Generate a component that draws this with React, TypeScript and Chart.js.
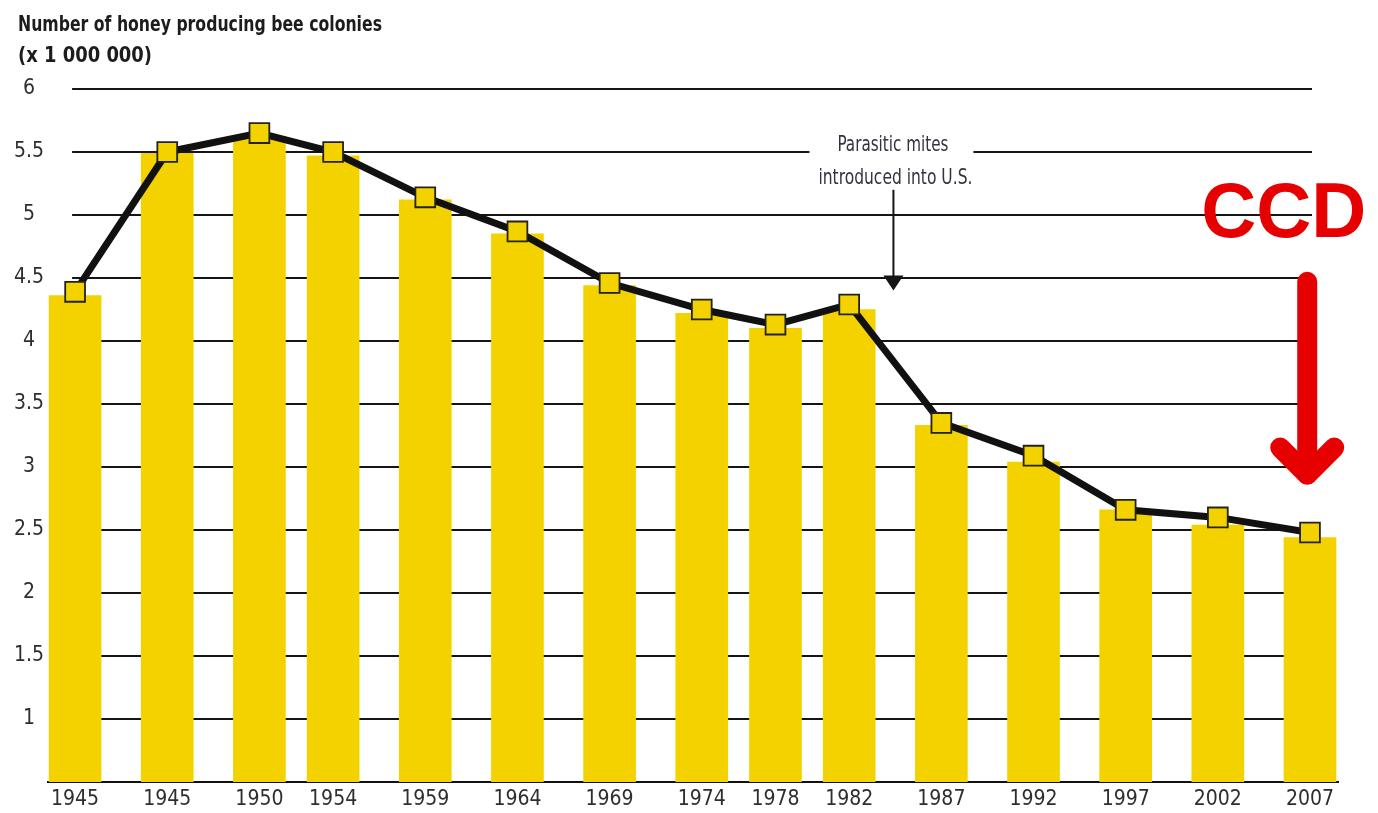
import React, { useEffect, useRef } from 'react';
import { Chart, registerables } from 'chart.js';

Chart.register(...registerables);

// ---- data ----
const xLabels = ['1945', '1945', '1950', '1954', '1959', '1964', '1969', '1974', '1978', '1982', '1987', '1992', '1997', '2002', '2007'];
const xYears = [1940, 1945, 1950, 1954, 1959, 1964, 1969, 1974, 1978, 1982, 1987, 1992, 1997, 2002, 2007];
const barValues = [4.36, 5.49, 5.62, 5.47, 5.12, 4.85, 4.44, 4.22, 4.1, 4.25, 3.33, 3.04, 2.66, 2.54, 2.44];
const lineValues = [4.39, 5.5, 5.65, 5.5, 5.14, 4.87, 4.46, 4.25, 4.13, 4.29, 3.35, 3.09, 2.66, 2.6, 2.48];
const gridValues = [1, 1.5, 2, 2.5, 3, 3.5, 4, 4.5, 5, 5.5, 6];
const titleLines = ['Number of honey producing bee colonies', '(x 1 000 000)'];
const mitesLines = ['Parasitic mites', 'introduced into U.S.'];
const mitesYear = 1984.4;
const ccdText = 'CCD';
const ccdYear = 2006.85;

const NARROW = "'Liberation Sans Narrow', 'DejaVu Sans Condensed', 'Arial Narrow', sans-serif";
const YELLOW = '#F3D200';
const RED = '#E60000';

function fitText(ctx: CanvasRenderingContext2D, text: string, x: number, y: number, width: number) {
  const w = ctx.measureText(text).width;
  ctx.save();
  ctx.translate(x, y);
  ctx.scale(width / w, 1);
  ctx.fillText(text, 0, 0);
  ctx.restore();
}

const decorPlugin = {
  id: 'decor',
  beforeDatasetsDraw(chart: any) {
    const { ctx, scales } = chart;
    const xs = scales.x;
    const ys = scales.y;
    const x0 = xs.getPixelForValue(xYears[0]) - 3;
    const x1 = xs.getPixelForValue(xYears[xYears.length - 1]) + 2;
    ctx.save();
    ctx.strokeStyle = '#151515';
    ctx.lineWidth = 2;
    gridValues.forEach((v) => {
      const py = Math.round(ys.getPixelForValue(v));
      ctx.beginPath();
      ctx.moveTo(x0, py);
      ctx.lineTo(x1, py);
      ctx.stroke();
    });
    // white box behind mites text
    const mx = xs.getPixelForValue(mitesYear);
    ctx.fillStyle = '#ffffff';
    ctx.fillRect(mx - 84, ys.getPixelForValue(5.72), 164, 62);
    ctx.restore();
  },
  afterDraw(chart: any) {
    const { ctx, scales } = chart;
    const xs = scales.x;
    const ys = scales.y;
    ctx.save();
    // title
    ctx.fillStyle = '#1c1c1c';
    ctx.textBaseline = 'alphabetic';
    ctx.textAlign = 'left';
    ctx.font = `bold 21px ${NARROW}`;
    fitText(ctx, titleLines[0], 18, 31, 364);
    fitText(ctx, titleLines[1], 18, 62, 134);

    // mites annotation
    const mx = xs.getPixelForValue(mitesYear);
    ctx.fillStyle = '#33333f';
    ctx.font = `22px ${NARROW}`;
    fitText(ctx, mitesLines[0], mx - 56, 151, 111);
    fitText(ctx, mitesLines[1], mx - 75, 184, 154);
    const ay0 = ys.getPixelForValue(5.2);
    const aTip = ys.getPixelForValue(4.4);
    ctx.strokeStyle = '#151515';
    ctx.lineWidth = 2;
    ctx.beginPath();
    ctx.moveTo(mx, ay0);
    ctx.lineTo(mx, aTip - 12);
    ctx.stroke();
    ctx.fillStyle = '#151515';
    ctx.beginPath();
    ctx.moveTo(mx - 10, aTip - 15);
    ctx.lineTo(mx + 10, aTip - 15);
    ctx.lineTo(mx, aTip);
    ctx.closePath();
    ctx.fill();

    // CCD
    const cx = xs.getPixelForValue(ccdYear);
    ctx.fillStyle = RED;
    ctx.font = `bold 78px 'Liberation Sans', Arial, sans-serif`;
    ctx.textAlign = 'left';
    fitText(ctx, ccdText, cx - 106, 237, 165);

    // red arrow
    const top = ys.getPixelForValue(4.47);
    const tip = ys.getPixelForValue(2.94);
    ctx.strokeStyle = RED;
    ctx.lineWidth = 20;
    ctx.lineCap = 'round';
    ctx.lineJoin = 'round';
    ctx.beginPath();
    ctx.moveTo(cx, top);
    ctx.lineTo(cx, tip);
    ctx.stroke();
    ctx.beginPath();
    ctx.moveTo(cx - 27, tip - 27);
    ctx.lineTo(cx, tip);
    ctx.lineTo(cx + 27, tip - 27);
    ctx.stroke();
    ctx.restore();
  },
};

export default function App() {
  const ref = useRef<HTMLCanvasElement | null>(null);

  useEffect(() => {
    if (!ref.current) return;
    const chart = new Chart(ref.current, {
      type: 'bar',
      data: {
        datasets: [
          {
            type: 'line',
            data: xYears.map((x, i) => ({ x, y: lineValues[i] })),
            borderColor: '#111111',
            borderWidth: 7,
            pointStyle: 'rect',
            pointRadius: 14,
            pointBackgroundColor: YELLOW,
            pointBorderColor: '#222222',
            pointBorderWidth: 1.8,
            tension: 0,
            order: 1,
            clip: false,
          } as any,
          {
            type: 'bar',
            data: xYears.map((x, i) => ({ x, y: barValues[i] })),
            backgroundColor: YELLOW,
            barThickness: 52,
            order: 2,
          } as any,
        ],
      },
      options: {
        animation: false,
        responsive: false,
        layout: { padding: { top: 89, right: 40, bottom: 0, left: 0 } },
        plugins: {
          legend: { display: false },
          tooltip: { enabled: false },
        },
        scales: {
          x: {
            type: 'linear',
            offset: false,
            min: 1938.53,
            max: 2008.52,
            grid: { display: false, drawTicks: false, offset: false },
            border: { display: true, color: '#111111', width: 2 },
            ticks: {
              autoSkip: false,
              maxRotation: 0,
              padding: 5,
              color: '#2e2e2e',
              font: { family: NARROW, size: 21 },
              callback: (_v: any, i: number) => xLabels[i] ?? '',
            },
            afterBuildTicks: (s: any) => {
              s.ticks = xYears.map((v) => ({ value: v }));
            },
            afterFit: (s: any) => {
              s.height = 31;
            },
          },
          y: {
            min: 0.5,
            max: 6,
            grid: { display: false, drawTicks: false },
            border: { display: false },
            ticks: {
              stepSize: 0.5,
              padding: 4,
              crossAlign: 'center',
              color: '#2e2e2e',
              font: { family: NARROW, size: 21 },
              callback: (v: any) => (Number(v) < 0.75 ? '' : String(v)),
            },
            afterFit: (s: any) => {
              s.width = 48;
            },
          },
        } as any,
      },
      plugins: [decorPlugin],
    });
    return () => chart.destroy();
  }, []);

  return (
    <div style={{ position: 'absolute', left: 0, top: 0, width: 1378, height: 813, background: '#fff' }}>
      <canvas ref={ref} width={1378} height={813} />
    </div>
  );
}
